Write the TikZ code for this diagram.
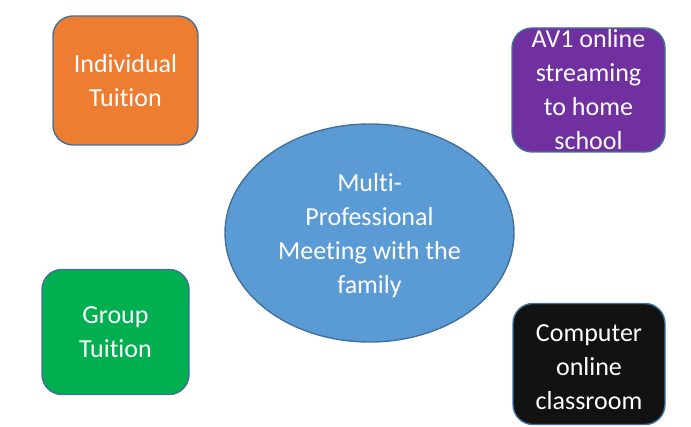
\documentclass[tikz,border=0pt]{standalone}
\usepackage{fontspec}
\setmainfont{Carlito}[Ligatures=NoCommon]
\usetikzlibrary{shapes.geometric}

\definecolor{tileedge}{HTML}{41719C}
\definecolor{indivorange}{HTML}{ED7D31}
\definecolor{avpurple}{HTML}{7030A0}
\definecolor{groupgreen}{HTML}{00B050}
\definecolor{compblack}{HTML}{121212}
\definecolor{meetblue}{HTML}{5B9BD5}

\begin{document}
\begin{tikzpicture}[x=1pt,y=-1pt,
  font=\fontsize{26}{34}\selectfont,
  tile/.style={draw=tileedge, line width=1.4pt, rounded corners=20pt, inner sep=0pt},
  tiletext/.style={text=white, align=center, inner sep=0pt}]
  \useasboundingbox (0,0) rectangle (691,427);

  \node [tile, fill=indivorange, minimum width=145pt, minimum height=129pt,
    label={[tiletext, name=indiv text]center:Individual\\Tuition}] (indiv) at (125.5,80.5) {};
  \node [tile, fill=avpurple, minimum width=153pt, minimum height=124pt,
    label={[tiletext, name=av1 text]center:AV1 online\\streaming\\to home\\school}] (av1) at (588.5,90) {};
  \node [tile, fill=groupgreen, minimum width=147pt, minimum height=125pt,
    label={[tiletext, name=group text]center:Group\\Tuition}] (group) at (115.5,332) {};
  \node [tile, fill=compblack, minimum width=152pt, minimum height=121pt,
    label={[tiletext, name=comp text, yshift=-3pt]center:Computer\\online\\classroom}] (comp) at (589,364) {};

  \node [ellipse, draw=tileedge, line width=1.4pt, fill=meetblue, inner sep=0pt,
    minimum width=289pt, minimum height=218pt,
    label={[tiletext, name=meet text, yshift=-3pt]center:Multi-\\Professional\\Meeting with the\\family}] (meet) at (369.5,233) {};

\end{tikzpicture}
\end{document}
